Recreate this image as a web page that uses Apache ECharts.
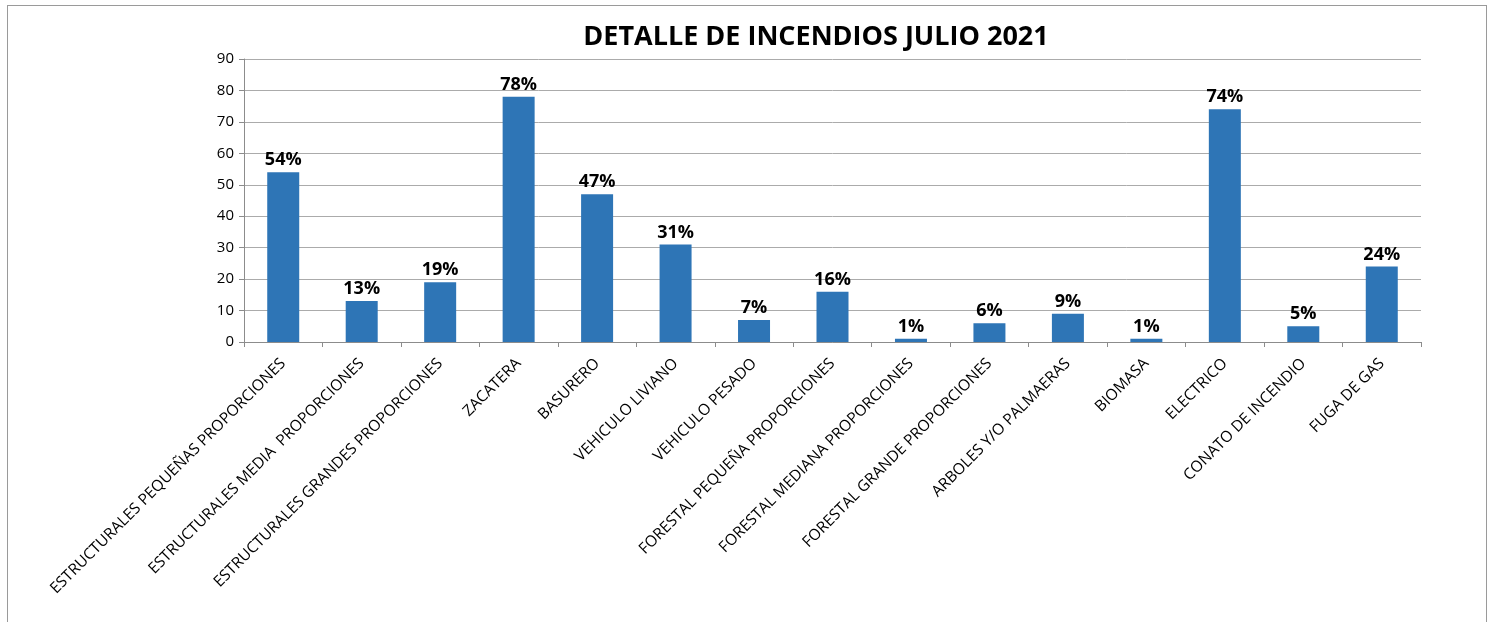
<!DOCTYPE html>
<html>
<head>
<meta charset="utf-8">
<script src="https://cdn.jsdelivr.net/npm/echarts@6/dist/echarts.min.js"></script>
<style>
  html, body { margin: 0; padding: 0; background: #fff; }
  #frame { position: absolute; left: 7px; top: 5px; width: 1480px; height: 700px; border: 1px solid #9a9a9a; box-sizing: border-box; }
  #chart { position: absolute; left: 0; top: 0; width: 1493px; height: 622px; }
</style>
</head>
<body>
<div id="frame"></div>
<div id="chart"></div>
<script>
const categories = [
  'ESTRUCTURALES PEQUEÑAS PROPORCIONES',
  'ESTRUCTURALES MEDIA  PROPORCIONES',
  'ESTRUCTURALES GRANDES PROPORCIONES',
  'ZACATERA',
  'BASURERO',
  'VEHICULO LIVIANO',
  'VEHICULO PESADO',
  'FORESTAL PEQUEÑA PROPORCIONES',
  'FORESTAL MEDIANA PROPORCIONES',
  'FORESTAL GRANDE PROPORCIONES',
  'ARBOLES Y/O PALMAERAS',
  'BIOMASA',
  'ELECTRICO',
  'CONATO DE INCENDIO',
  'FUGA DE GAS'
];
const values = [54, 13, 19, 78, 47, 31, 7, 16, 1, 6, 9, 1, 74, 5, 24];
const yTicks = [0, 10, 20, 30, 40, 50, 60, 70, 80, 90];

const font = '"Open Sans", "Noto Sans", sans-serif';
let chart = echarts.init(document.getElementById('chart'));
let option = {
  animation: false,
  title: {
    text: 'DETALLE DE INCENDIOS JULIO 2021',
    left: 811,
    textAlign: 'center',
    top: 19,
    textStyle: { fontFamily: font, fontWeight: 'bold', fontSize: 27, color: '#000' }
  },
  grid: { left: 244, right: 72, top: 59, bottom: 280 },
  xAxis: {
    type: 'category',
    data: categories,
    axisLine: { lineStyle: { color: '#8c8c8c' } },
    axisTick: { show: true, length: 5, lineStyle: { color: '#8c8c8c' } },
    axisLabel: {
      interval: 0,
      rotate: 45,
      margin: 19,
      fontFamily: font,
      fontSize: 15.5,
      color: '#000'
    }
  },
  yAxis: {
    type: 'value',
    min: yTicks[0],
    max: yTicks[yTicks.length - 1],
    interval: 10,
    axisLine: { show: true, lineStyle: { color: '#8c8c8c' } },
    axisTick: { show: true, length: 5, lineStyle: { color: '#8c8c8c' } },
    axisLabel: { fontFamily: font, fontSize: 15, color: '#000', margin: 10 },
    splitLine: { lineStyle: { color: '#ababab' } }
  },
  series: [{
    type: 'bar',
    data: values,
    barWidth: 32,
    itemStyle: { color: '#2e75b6' },
    label: {
      show: true,
      position: 'top',
      distance: 3,
      formatter: p => p.value + '%',
      fontFamily: font,
      fontWeight: 'bold',
      fontSize: 18,
      color: '#000'
    }
  }]
};
chart.setOption(option);
</script>
</body>
</html>
